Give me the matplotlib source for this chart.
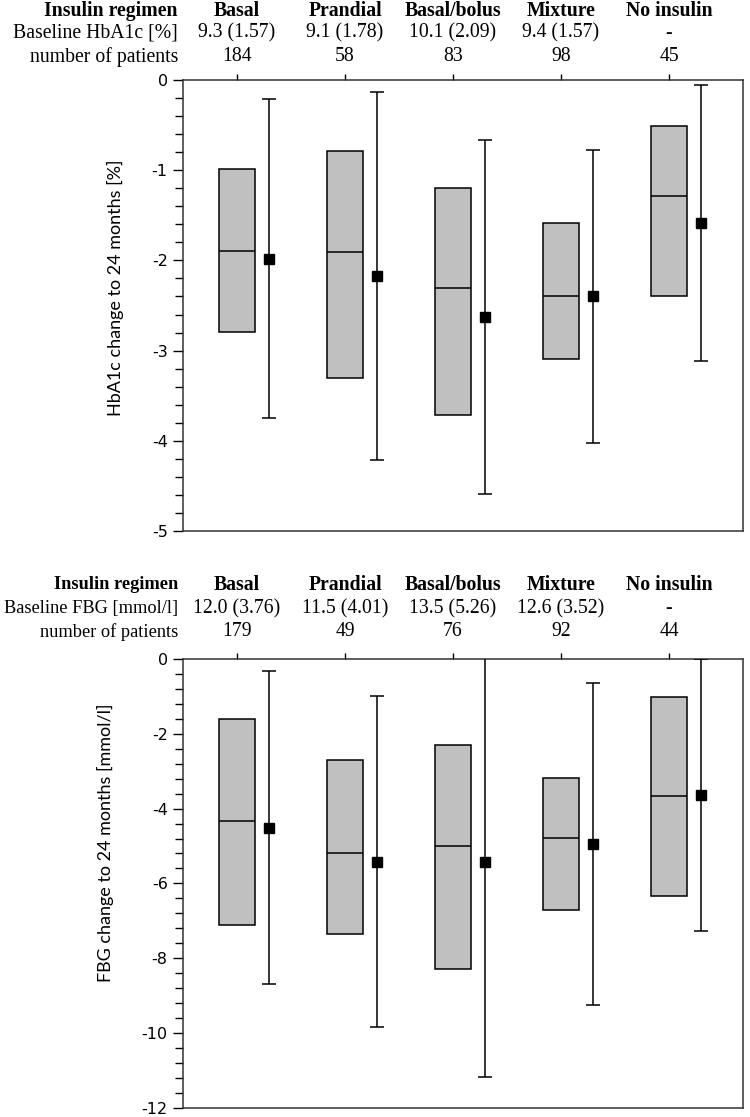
import numpy as np
import matplotlib
matplotlib.use("Agg")
import matplotlib.pyplot as plt
from matplotlib.ticker import MultipleLocator

plt.rcParams['axes.unicode_minus'] = False

# data
categories = ['Basal', 'Prandial', 'Basal/bolus', 'Mixture', 'No insulin']

hba1c_baseline = ['9.3 (1.57)', '9.1 (1.78)', '10.1 (2.09)', '9.4 (1.57)', '-']
hba1c_n = [184, 58, 83, 98, 45]
hba1c_q_hi = [-0.99, -0.79, -1.20, -1.59, -0.51]
hba1c_q_lo = [-2.79, -3.30, -3.71, -3.09, -2.40]
hba1c_median = [-1.90, -1.91, -2.31, -2.40, -1.29]
hba1c_mean = [-1.98, -2.17, -2.63, -2.40, -1.59]
hba1c_sd = [1.77, 2.04, 1.96, 1.62, 1.53]

fbg_baseline = ['12.0 (3.76)', '11.5 (4.01)', '13.5 (5.26)', '12.6 (3.52)', '-']
fbg_n = [179, 49, 76, 92, 44]
fbg_q_hi = [-1.60, -2.71, -2.31, -3.19, -1.01]
fbg_q_lo = [-7.10, -7.35, -8.28, -6.72, -6.34]
fbg_median = [-4.33, -5.20, -5.00, -4.78, -3.66]
fbg_mean = [-4.51, -5.42, -5.42, -4.94, -3.64]
fbg_sd = [4.18, 4.42, 5.76, 4.30, 3.63]

serif = 'Liberation Serif'
sans = 'Lato'
tick_font = 'DejaVu Sans'

fig = plt.figure(figsize=(7.5, 11.17), dpi=100)
ax1 = fig.add_axes([0.244, 0.5246, 0.7467, 0.4038])
ax2 = fig.add_axes([0.244, 0.0081, 0.7467, 0.4020])


def panel(ax, q_hi, q_lo, med, mean, sd, ylim, minor, ylabel, lab_xy,
          baseline_label, baseline, n, offs, head_size):
    x = np.arange(1, len(categories) + 1)
    w = 0.333
    ax.bar(x, np.array(q_hi) - np.array(q_lo), bottom=q_lo, width=w,
           color='#c0c0c0', edgecolor='black', linewidth=1.1, zorder=2)
    ax.hlines(med, x - w / 2, x + w / 2, color='black', linewidth=1.1, zorder=3)
    ax.errorbar(x + 0.30, mean, yerr=sd, fmt='s', color='black', ms=7,
                elinewidth=1.1, capsize=5, capthick=1.1, zorder=4)
    ax.set_xlim(0.5, 5.685)
    ax.set_ylim(*ylim)
    ax.yaxis.set_minor_locator(MultipleLocator(minor))
    ax.tick_params(axis='y', which='major', direction='out', length=7,
                   width=1, labelsize=11.5, pad=4)
    ax.tick_params(axis='y', which='minor', direction='out', length=6, width=1)
    ax.xaxis.tick_top()
    ax.set_xticks(x)
    ax.tick_params(axis='x', direction='out', length=4, width=1,
                   labeltop=False, labelbottom=False)
    for s in ax.spines.values():
        s.set_linewidth(1.1)
        s.set_color('#333333')
    ax.set_ylabel(ylabel, fontsize=13, family=sans)
    ax.yaxis.set_label_coords(*lab_xy)

    rows = [('Insulin regimen', categories, 'bold', offs[2]),
            (baseline_label, baseline, 'normal', offs[1]),
            ('number of patients', [str(v) for v in n], 'normal', offs[0])]
    for head, vals, wt, off in rows:
        ax.annotate(head, xy=(-0.009, 1), xycoords='axes fraction',
                    xytext=(0, off), textcoords='offset points',
                    ha='right', va='center', fontsize=head_size, family=serif,
                    fontweight=wt)
        for xi, v in zip(x, vals):
            ax.annotate(v, xy=(xi, 1), xycoords=('data', 'axes fraction'),
                        xytext=(0, off), textcoords='offset points',
                        ha='center', va='center', fontsize=14.2, family=serif,
                        fontweight=wt)


panel(ax1, hba1c_q_hi, hba1c_q_lo, hba1c_median, hba1c_mean, hba1c_sd,
      (-5, 0), 0.2, 'HbA1c change to 24 months [%]', (-0.105, 0.54),
      'Baseline HbA1c [%]', hba1c_baseline, hba1c_n, (16.6, 33.6, 50.0), 14.2)
ax1.set_yticks([0, -1, -2, -3, -4, -5])

panel(ax2, fbg_q_hi, fbg_q_lo, fbg_median, fbg_mean, fbg_sd,
      (-12, 0), 0.4, 'FBG change to 24 months [mmol/l]', (-0.123, 0.59),
      'Baseline FBG [mmol/l]', fbg_baseline, fbg_n, (19.4, 36.0, 53.3), 13.2)
ax2.set_yticks([0, -2, -4, -6, -8, -10, -12])

for ax in (ax1, ax2):
    for t in ax.get_yticklabels():
        t.set_fontfamily(tick_font)

plt.savefig('out.png', dpi=100)
